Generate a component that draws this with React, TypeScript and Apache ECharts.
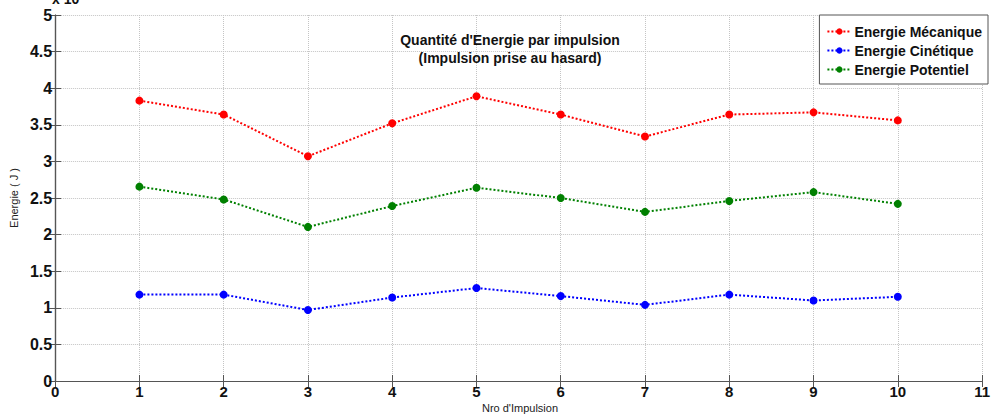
import React, { useEffect, useRef } from "react";
import * as echarts from "echarts";

const impulsions = [1, 2, 3, 4, 5, 6, 7, 8, 9, 10];
const energieMecanique = [3.83, 3.64, 3.07, 3.52, 3.89, 3.64, 3.34, 3.64, 3.67, 3.56];
const energieCinetique = [1.18, 1.18, 0.97, 1.14, 1.27, 1.16, 1.04, 1.18, 1.1, 1.15];
const energiePotentiel = [2.655, 2.48, 2.105, 2.39, 2.64, 2.5, 2.31, 2.46, 2.58, 2.42];
const seriesNames = ["Energie Mécanique", "Energie Cinétique", "Energie Potentiel"];
const seriesColors = ["#ff0000", "#0000ff", "#008000"];
const titleLines = ["Quantité d'Energie par impulsion", "(Impulsion prise au hasard)"];

const FONT = "'Liberation Sans', Arial, Helvetica, sans-serif";

export default function App() {
  const ref = useRef<HTMLDivElement>(null);
  useEffect(() => {
    if (!ref.current) return;
    const chart = echarts.init(ref.current, undefined, { renderer: "svg" });
    const values = [energieMecanique, energieCinetique, energiePotentiel];
    const series = values.map((vals, i) => ({
      name: seriesNames[i],
      type: "line",
      xAxisIndex: 0,
      yAxisIndex: 0,
      data: impulsions.map((x, j) => [x, vals[j]]),
      symbol: "circle",
      symbolSize: 8,
      itemStyle: { color: seriesColors[i] },
      lineStyle: { color: seriesColors[i], type: "dotted", width: 2 },
      z: 3,
    }));
    const tickLabel = { color: "#111", fontSize: 16, fontWeight: "bold", fontFamily: FONT };
    const grid = { left: 52, right: 5, top: 15, bottom: 33 };
    chart.setOption({
      animation: false,
      backgroundColor: "#ffffff",
      grid,
      legend: {
        orient: "vertical",
        right: 5,
        top: 15,
        padding: [9, 6, 7, 7],
        itemGap: 4,
        itemWidth: 24,
        itemHeight: 8,
        borderColor: "#555",
        borderWidth: 1,
        backgroundColor: "#ffffff",
        textStyle: { color: "#111", fontSize: 14, fontWeight: "bold", fontFamily: FONT, lineHeight: 15, padding: [0, 0, 0, -2] },
        data: seriesNames,
      },
      xAxis: [
        {
          type: "value",
          min: 0,
          max: 11,
          interval: 1,
          axisLine: { show: true, lineStyle: { color: "#555", width: 1.2 } },
          axisTick: { show: true, inside: true, length: 6, lineStyle: { color: "#555" } },
          axisLabel: { ...tickLabel, fontSize: 15, margin: 3, lineHeight: 15 },
          splitLine: { show: true, lineStyle: { color: "#c4c4c4", type: "dotted", width: 1 } },
        },
        {
          type: "value",
          position: "top",
          min: 0,
          max: 11,
          interval: 1,
          axisLine: { show: true, lineStyle: { color: "#555", width: 1.2 } },
          axisTick: { show: true, inside: true, length: 6, lineStyle: { color: "#555" } },
          axisLabel: { show: false },
          splitLine: { show: false },
        },
      ],
      yAxis: [
        {
          type: "value",
          min: 0,
          max: 5,
          interval: 0.5,
          name: "Energie ( J )",
          nameLocation: "middle",
          nameGap: 35,
          nameTextStyle: { color: "#222", fontSize: 11, fontFamily: FONT },
          axisLine: { show: true, lineStyle: { color: "#555", width: 1.2 } },
          axisTick: { show: true, inside: true, length: 6, lineStyle: { color: "#555" } },
          axisLabel: { ...tickLabel, margin: 3 },
          splitLine: { show: true, lineStyle: { color: "#c4c4c4", type: "dotted", width: 1 } },
        },
        {
          type: "value",
          position: "right",
          min: 0,
          max: 5,
          interval: 0.5,
          axisLine: { show: true, lineStyle: { color: "#555", width: 1.2 } },
          axisTick: { show: true, inside: true, length: 6, lineStyle: { color: "#555" } },
          axisLabel: { show: false },
          splitLine: { show: false },
        },
      ],
      graphic: [
        {
          type: "text",
          left: 52,
          top: -8,
          style: { text: "x 10", fontSize: 14, fontWeight: "bold", fontFamily: FONT, fill: "#111" },
        },
        {
          type: "text",
          x: 510,
          y: 40,
          style: {
            text: titleLines[0],
            fontSize: 14,
            fontWeight: "bold",
            fontFamily: FONT,
            fill: "#111",
            textAlign: "center",
            textVerticalAlign: "middle",
          },
          z: 10,
        },
        {
          type: "text",
          x: 510,
          y: 58,
          style: {
            text: titleLines[1],
            fontSize: 14,
            fontWeight: "bold",
            fontFamily: FONT,
            fill: "#111",
            textAlign: "center",
            textVerticalAlign: "middle",
          },
          z: 10,
        },
        {
          type: "text",
          x: 520,
          y: 408,
          style: {
            text: "Nro d'Impulsion",
            fontSize: 11,
            fontFamily: FONT,
            fill: "#222",
            textAlign: "center",
            textVerticalAlign: "middle",
          },
        },
      ],
      series,
    });
    return () => chart.dispose();
  }, []);
  return (
    <div
      ref={ref}
      style={{ position: "fixed", left: 0, top: 0, width: 993, height: 414, background: "#fff" }}
    />
  );
}
